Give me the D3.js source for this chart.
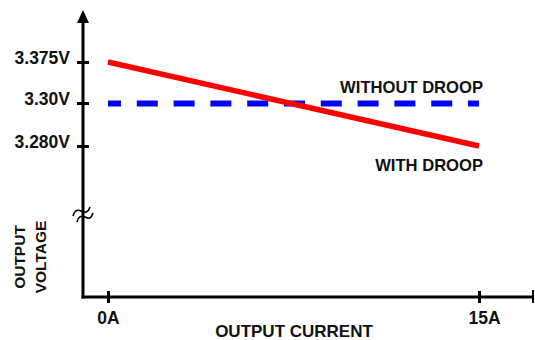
<!DOCTYPE html>
<html><head><meta charset="utf-8">
<script src="https://cdn.jsdelivr.net/npm/d3@7"></script>
<style>
html,body{margin:0;padding:0;background:#fff;}
text{font-family:"Liberation Sans",Arial,sans-serif;font-weight:bold;fill:#111;}
</style></head>
<body>
<svg id="chart" width="535" height="340"></svg>
<script>
// ---- data ----
const currents = [0, 15];                 // A
const withDroop = [3.375, 3.280];         // V
const withoutDroop = [3.30, 3.30];        // V
const yTickValues = [3.375, 3.30, 3.280];
const yTickLabels = ["3.375V", "3.30V", "3.280V"];
const xTickValues = [0, 15];
const xTickLabels = ["0A", "15A"];
const seriesNames = ["WITHOUT DROOP", "WITH DROOP"];
const xTitle = "OUTPUT CURRENT";
const yTitle = ["OUTPUT", "VOLTAGE"];

// ---- layout ----
const svg = d3.select("#chart");
const axisX = 83, axisY = 297;
const x = d3.scaleLinear().domain([0, 15]).range([108, 479]);
// non-uniform (broken) voltage axis: piecewise-linear scale
const y = d3.scaleLinear().domain([3.28, 3.30, 3.375]).range([146, 103, 62]);

// axis lines
svg.append("line").attr("x1", axisX).attr("x2", axisX).attr("y1", 20).attr("y2", axisY + 1.5)
  .attr("stroke", "#000").attr("stroke-width", 3);
svg.append("path").attr("d", `M${axisX},10 L${axisX + 6},23 L${axisX - 6},23 Z`).attr("fill", "#000");
svg.append("line").attr("x1", axisX - 1.5).attr("x2", 534).attr("y1", axisY).attr("y2", axisY)
  .attr("stroke", "#000").attr("stroke-width", 3);
svg.append("line").attr("x1", 533).attr("x2", 533).attr("y1", axisY - 7).attr("y2", axisY + 6)
  .attr("stroke", "#000").attr("stroke-width", 2);

// axis break symbol
svg.append("path")
  .attr("d", "M73,216 C74,211 77,209 81,211 C85,213 88,213 90,207 M77,222 C78,217 81,215 85,217 C89,219 91,219 93,213")
  .attr("fill", "none").attr("stroke", "#000").attr("stroke-width", 1.6);

// y axis (ticks + labels)
const yAxis = d3.axisLeft(y).tickValues(yTickValues)
  .tickFormat((d, i) => yTickLabels[i]).tickSizeOuter(0).tickSize(6).tickPadding(7);
const gy = svg.append("g").attr("transform", `translate(${axisX},0)`).call(yAxis);
gy.select(".domain").remove();
gy.selectAll(".tick line").attr("x1", -6).attr("x2", 6).attr("stroke", "#000").attr("stroke-width", 3);
gy.selectAll(".tick text").attr("font-size", 17.5).attr("dy", "0.1em")
  .attr("font-family", "Liberation Sans, Arial, sans-serif").attr("font-weight", "bold").attr("fill", "#111");

// x axis (ticks + labels)
const xAxis = d3.axisBottom(x).tickValues(xTickValues)
  .tickFormat((d, i) => xTickLabels[i]).tickSizeOuter(0).tickSize(6).tickPadding(8);
const gx = svg.append("g").attr("transform", `translate(0,${axisY})`).call(xAxis);
gx.select(".domain").remove();
gx.selectAll(".tick line").attr("y1", -6).attr("y2", 6).attr("stroke", "#000").attr("stroke-width", 3);
gx.selectAll(".tick text").attr("font-size", 17.5).attr("dy", "0.75em")
  .attr("dx", (d, i) => i === 1 ? 5 : 0)
  .attr("font-family", "Liberation Sans, Arial, sans-serif").attr("font-weight", "bold").attr("fill", "#111");

// series lines
const line = d3.line().x((d) => x(d[0])).y((d) => y(d[1]));
svg.append("path").datum(currents.map((c, i) => [c, withoutDroop[i]]))
  .attr("d", line).attr("fill", "none").attr("stroke", "#0000ff").attr("stroke-width", 6)
  .attr("stroke-dasharray", "21,15.8").attr("stroke-dashoffset", 8)
  .attr("transform", "translate(0,0.5)");
svg.append("path").datum(currents.map((c, i) => [c, withDroop[i]]))
  .attr("d", line).attr("fill", "none").attr("stroke", "#ff0000").attr("stroke-width", 5.5)
  .attr("stroke-linecap", "butt");

// series labels
svg.append("text").attr("x", 483).attr("y", 93).attr("text-anchor", "end")
  .attr("font-size", 16.6).text(seriesNames[0]);
svg.append("text").attr("x", 483).attr("y", 171).attr("text-anchor", "end")
  .attr("font-size", 16.6).text(seriesNames[1]);

// axis titles
svg.append("text").attr("x", 294).attr("y", 337).attr("text-anchor", "middle")
  .attr("font-size", 17).text(xTitle);
const yt = svg.append("text").attr("transform", "translate(25,257) rotate(-90)")
  .attr("text-anchor", "middle").attr("font-size", 15.5);
yt.append("tspan").attr("x", 0).attr("y", 0).text(yTitle[0]);
yt.append("tspan").attr("x", 0).attr("y", 21).text(yTitle[1]);
</script>
</body></html>
